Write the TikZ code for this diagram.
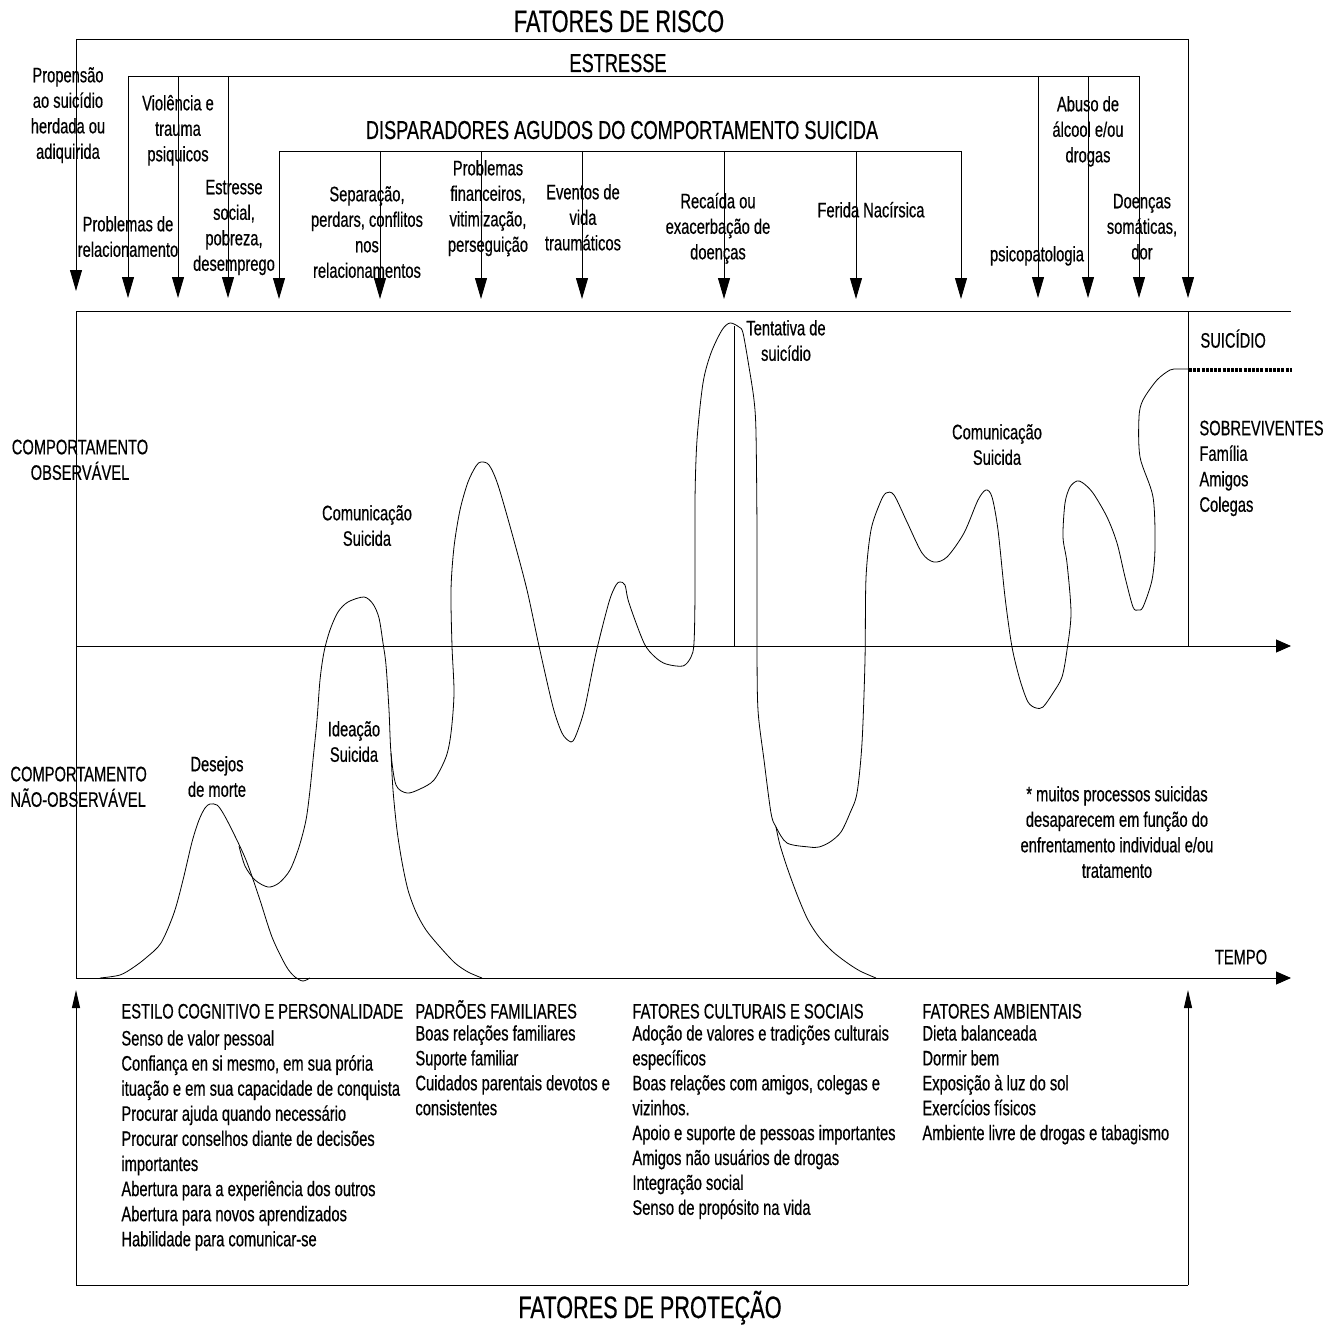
\documentclass[tikz,border=0pt]{standalone}
\usepackage{fontspec}
\setmainfont{Liberation Sans}[FakeStretch=0.7,FakeBold=0.5]
\usepackage{tikz}
\usetikzlibrary{arrows.meta}
\usepackage{xcolor}

\begin{document}
\begin{tikzpicture}[x=1pt,y=-1pt,line width=0.9pt,
  rotulo/.style={font={\fontsize{21}{25.5}\selectfont\lineskiplimit=-30pt},align=center,anchor=north,inner sep=0pt},
  rotuloesq/.style={rotulo,align=left,anchor=north west},
  item/.style={font=\fontsize{21}{25.5}\selectfont,anchor=base west,inner sep=0pt},
  titulo/.style={font=\fontsize{31}{37}\selectfont,anchor=base,inner sep=0pt},
  subtitulo/.style={font=\fontsize{26}{31}\selectfont,anchor=base,inner sep=0pt},
  seta/.style={-{Triangle[length=21pt,width=12pt]}},
  eixo/.style={-{Triangle[length=15pt,width=13pt]}},
  setacima/.style={-{Triangle[length=18pt,width=8pt]}},
  curva/.style={line width=0.8pt},
  pontilhado/.style={line width=3.5pt,dash pattern=on 3pt off 1.2pt}]
  \useasboundingbox (0,0) rectangle (1339,1327);

  \node[titulo] (risco) at (619,32) {FATORES DE RISCO};
  \node[subtitulo] (estresse) at (618,72) {ESTRESSE};
  \node[subtitulo] (disparadores) at (622,139) {DISPARADORES AGUDOS DO COMPORTAMENTO SUICIDA};
  \node[titulo] (protecao) at (650,1318) {FATORES DE PROTEÇÃO};

  \draw (76,39) -- (1188,39);
  \foreach \x/\y in {76/291,1188/298}
    \draw[seta] (\x,39) -- (\x,\y);
  \draw (128,76) -- (1139,76);
  \foreach \x in {128,178,228,1038,1088,1139}
    \draw[seta] (\x,76) -- (\x,298);
  \draw (279,151) -- (961,151);
  \foreach \x in {279,380,481,582,724,856,961}
    \draw[seta] (\x,151) -- (\x,299);

  \node[rotulo] (propensao) at (68,64) {\strut Propensão\\ao suicídio\\herdada ou\\adiquirida};
  \node[rotulo] (violencia) at (178,92) {\strut Violência e\\trauma\\psiquicos};
  \node[rotulo] (relacionamento) at (128,213) {\strut Problemas de\\relacionamento};
  \node[rotulo] (social) at (234,176) {\strut Estresse\\social,\\pobreza,\\desemprego};
  \node[rotulo] (separacao) at (367,183) {\strut Separação,\\perdars, conflitos\\nos\\relacionamentos};
  \node[rotulo] (financeiros) at (488,157) {\strut Problemas\\financeiros,\\vitimização,\\perseguição};
  \node[rotulo] (eventos) at (583,181) {\strut Eventos de\\vida\\traumáticos};
  \node[rotulo] (recaida) at (718,190) {\strut Recaída ou\\exacerbação de\\doenças};
  \node[rotulo] (ferida) at (871,199) {\strut Ferida Nacírsica};
  \node[rotulo] (psicopatologia) at (1037,243) {\strut psicopatologia};
  \node[rotulo] (abuso) at (1088,93) {\strut Abuso de\\álcool e/ou\\drogas};
  \node[rotulo] (somaticas) at (1142,190) {\strut Doenças\\somáticas,\\dor};

  \draw (76,978) -- (76,311) -- (1291,311);
  \draw (1188,311) -- (1188,646);
  \draw[eixo] (76,646) -- (1291,646);
  \draw[eixo] (76,978) -- (1291,978);
  \draw (76,1285) -- (1188,1285);
  \draw[setacima] (76,1285) -- (76,990);
  \draw[setacima] (1188,1285) -- (1188,990);
  \draw (734,326) -- (734,646);
  \draw[pontilhado] (1189,370) -- (1292,370);

  \draw[curva] plot[smooth,tension=0.5] coordinates {(100,978) (120,975) (134,967) (147,957) (161,943) (174,913) (183,880) (192,842) (199,820) (205,808) (210,804) (217,805) (223,813) (232,830) (246,860) (259,897) (272,937) (286,966) (295,977) (303,981) (310,978)};
  \draw[curva] plot[smooth,tension=0.5] coordinates {(239,846) (245,866) (255,880) (268,887) (279,883) (290,870) (299,847) (306,820) (310,790) (313,760) (317,720) (320,680) (324,652) (330,630) (338,612) (348,602) (364,597) (373,604) (379,618) (383,643) (386,665) (389,710) (391,753) (396,785) (407,793) (420,789) (434,780) (446,757) (451,733) (454,693) (452,646) (451,590) (454,547) (460,510) (468,482) (476,466) (481,462) (489,465) (498,485) (513,537) (527,590) (539,646) (553,707) (562,733) (569,741) (573,741) (578,730) (585,707) (596,653) (609,602) (616,585) (620,582) (625,585) (629,603) (644,643) (655,657) (666,664) (683,666) (691,657) (694,643) (695,593) (695,500) (697,440) (703,383) (711,353) (722,330) (730,323) (739,327) (743,333) (749,367) (754,400) (756,433) (757,533) (757,646) (758,710) (764,760) (771,813) (776,827) (787,843) (809,847) (819,847) (830,842) (841,832) (850,813) (857,793) (862,743) (865,660) (866,578) (871,530) (880,503) (886,493) (894,495) (907,522) (922,553) (934,562) (947,557) (964,533) (978,500) (986,490) (992,497) (998,530) (1005,597) (1012,647) (1020,680) (1028,702) (1036,708) (1043,707) (1053,693) (1062,677) (1067,650) (1071,613) (1067,563) (1063,537) (1065,503) (1070,487) (1077,481) (1083,483) (1093,493) (1107,517) (1117,543) (1125,577) (1133,607) (1138,610) (1143,607) (1152,580) (1155,547) (1153,497) (1140,457) (1139,417) (1143,400) (1157,380) (1170,370) (1178,369) (1189,369)};
  \draw[curva] plot[smooth,tension=0.5] coordinates {(391,753) (393,790) (397,830) (402,862) (408,890) (416,912) (426,930) (440,947) (455,963) (468,972) (482,978)};
  \draw[curva] plot[smooth,tension=0.5] coordinates {(776,827) (780,845) (788,870) (798,897) (808,920) (819,937) (832,951) (846,962) (860,971) (876,978)};

  \node[rotulo] (tentativa) at (786,317) {\strut Tentativa de\\suicídio};
  \node[rotuloesq] (suicidio) at (1200,329) {\strut SUICÍDIO};
  \node[rotuloesq] (sobreviventes) at (1199,417) {\strut SOBREVIVENTES\\Família\\Amigos\\Colegas};
  \node[rotulo] (observavel) at (80,436) {\strut COMPORTAMENTO\\OBSERVÁVEL};
  \node[rotuloesq] (naoobservavel) at (10,763) {\strut COMPORTAMENTO\\NÃO-OBSERVÁVEL};
  \node[rotulo] (comunicacao) at (367,502) {\strut Comunicação\\Suicida};
  \node[rotulo] (desejos) at (217,753) {\strut Desejos\\de morte};
  \node[rotulo] (ideacao) at (354,718) {\strut Ideação\\Suicida};
  \node[rotulo] (comunicacaob) at (997,421) {\strut Comunicação\\Suicida};
  \node[rotulo] (nota) at (1117,783) {\strut * muitos processos suicidas\\desaparecem em função do\\enfrentamento individual e/ou\\tratamento};
  \node[rotulo] (tempo) at (1241,946) {\strut TEMPO};

  \node[item] (estilo) at (121,1018.5) {ESTILO COGNITIVO E PERSONALIDADE};
  \foreach \t [count=\i from 0] in {Senso de valor pessoal,{Confiança en si mesmo, em sua prória},ituação e em sua capacidade de conquista,Procurar ajuda quando necessário,Procurar conselhos diante de decisões,importantes,Abertura para a experiência dos outros,Abertura para novos aprendizados,Habilidade para comunicar-se}
    \node[item] (estilo\i) at (121,1045.5+25.1*\i) {\t};

  \node[item] (familiares) at (415,1018.5) {PADRÕES FAMILIARES};
  \foreach \t [count=\i from 0] in {Boas relações familiares,Suporte familiar,Cuidados parentais devotos e,consistentes}
    \node[item] (familiares\i) at (415,1040.5+24.9*\i) {\t};

  \node[item] (culturais) at (632,1018.5) {FATORES CULTURAIS E SOCIAIS};
  \foreach \t [count=\i from 0] in {Adoção de valores e tradições culturais,específicos,{Boas relações com amigos, colegas e},vizinhos.,Apoio e suporte de pessoas importantes,Amigos não usuários de drogas,Integração social,Senso de propósito na vida}
    \node[item] (culturais\i) at (632,1040.5+24.9*\i) {\t};

  \node[item] (ambientais) at (922,1018.5) {FATORES AMBIENTAIS};
  \foreach \t [count=\i from 0] in {Dieta balanceada,Dormir bem,Exposição à luz do sol,Exercícios físicos,Ambiente livre de drogas e tabagismo}
    \node[item] (ambientais\i) at (922,1040.5+24.9*\i) {\t};
\end{tikzpicture}
\end{document}
